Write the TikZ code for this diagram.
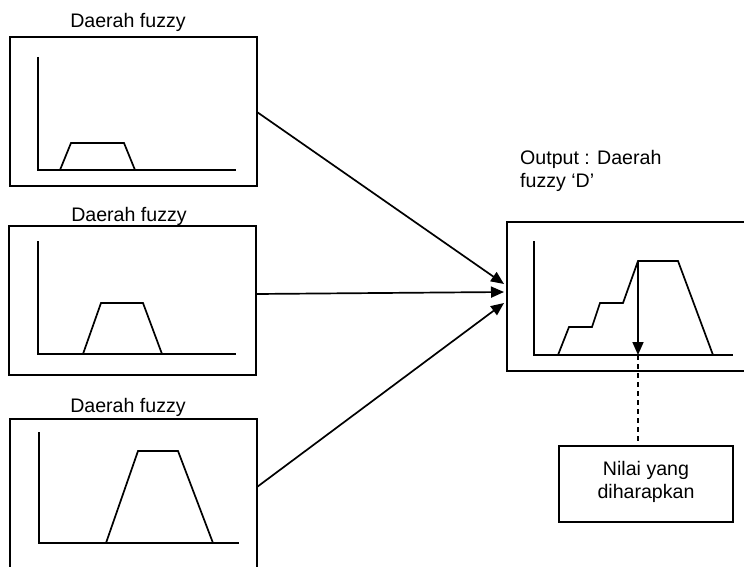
\documentclass[tikz,border=0pt]{standalone}
\usepackage{fontspec}
\setmainfont{Liberation Sans}
\usetikzlibrary{arrows.meta}
\begin{document}
\begin{tikzpicture}[x=1pt,y=-1pt,
  fbox/.style={draw=black,line width=1.6pt,inner sep=0pt,outer sep=0pt,anchor=north west},
  curve/.style={draw=black,line width=1.7pt,line join=miter},
  lbl/.style={inner sep=0pt,font=\fontsize{19.6}{23}\selectfont},
  conn/.style={draw=black,line width=1.7pt,-{Triangle[length=13pt,width=11pt]}},
  dashconn/.style={draw=black,line width=1.5pt,dash pattern=on 5pt off 4pt}]
\useasboundingbox (0,0) rectangle (744,567);
\clip (0,0) rectangle (744,567);
% input boxes
\node[fbox,minimum width=247pt,minimum height=149pt] (b1) at (10,37) {};
\node[fbox,minimum width=247pt,minimum height=149pt] (b2) at (9,226) {};
\node[fbox,minimum width=247pt,minimum height=170pt] (b3) at (10,419) {};
\node[lbl,anchor=base] (t1) at (128,27.5) {Daerah fuzzy};
\node[lbl,anchor=base] (t2) at (129,221.5) {Daerah fuzzy};
\node[lbl,anchor=base] (t3) at (128,412) {Daerah fuzzy};
% output box
\node[fbox,minimum width=253pt,minimum height=149pt] (out) at (507,222) {};
\node[lbl,anchor=base west,align=left] (tout) at (520,187) {Output : Daerah\\fuzzy ‘D’};
% result box
\node[fbox,minimum width=174pt,minimum height=76pt] (res) at (559,446) {};
\node[lbl,anchor=base] (r1) at (646,475) {Nilai yang};
\node[lbl,anchor=base] (r2) at (646,498) {diharapkan};
% graphs
\draw[curve] (38,57) -- (38,170) -- (236,170);
\draw[curve] (60,170) -- (71,143) -- (124,143) -- (135,170);
\draw[curve] (38,241) -- (38,354) -- (236,354);
\draw[curve] (83,354) -- (101,303) -- (143,303) -- (162,354);
\draw[curve] (39,432) -- (39,543) -- (239,543);
\draw[curve] (106,543) -- (138,451) -- (178,451) -- (213,543);
\draw[curve] (534,241) -- (534,355) -- (733,355);
\draw[curve] (558,355) -- (569,327) -- (592,327) -- (600,303) -- (623,303) -- (638,261) -- (678,261) -- (713,355);
% connectors
\coordinate (s1) at (257,112);
\coordinate (s2) at (256,294);
\coordinate (s3) at (257,487);
\coordinate (e1) at (504,284);
\coordinate (e2) at (504,292);
\coordinate (e3) at (504,303);
\draw[conn] (s1) -- (e1);
\draw[conn] (s2) -- (e2);
\draw[conn] (s3) -- (e3);
\coordinate (top) at (638,261);
\coordinate (base) at (638,355);
\draw[conn] (top) -- (base);
\draw[dashconn] (base) -- (res.north -| base);
\end{tikzpicture}
\end{document}
